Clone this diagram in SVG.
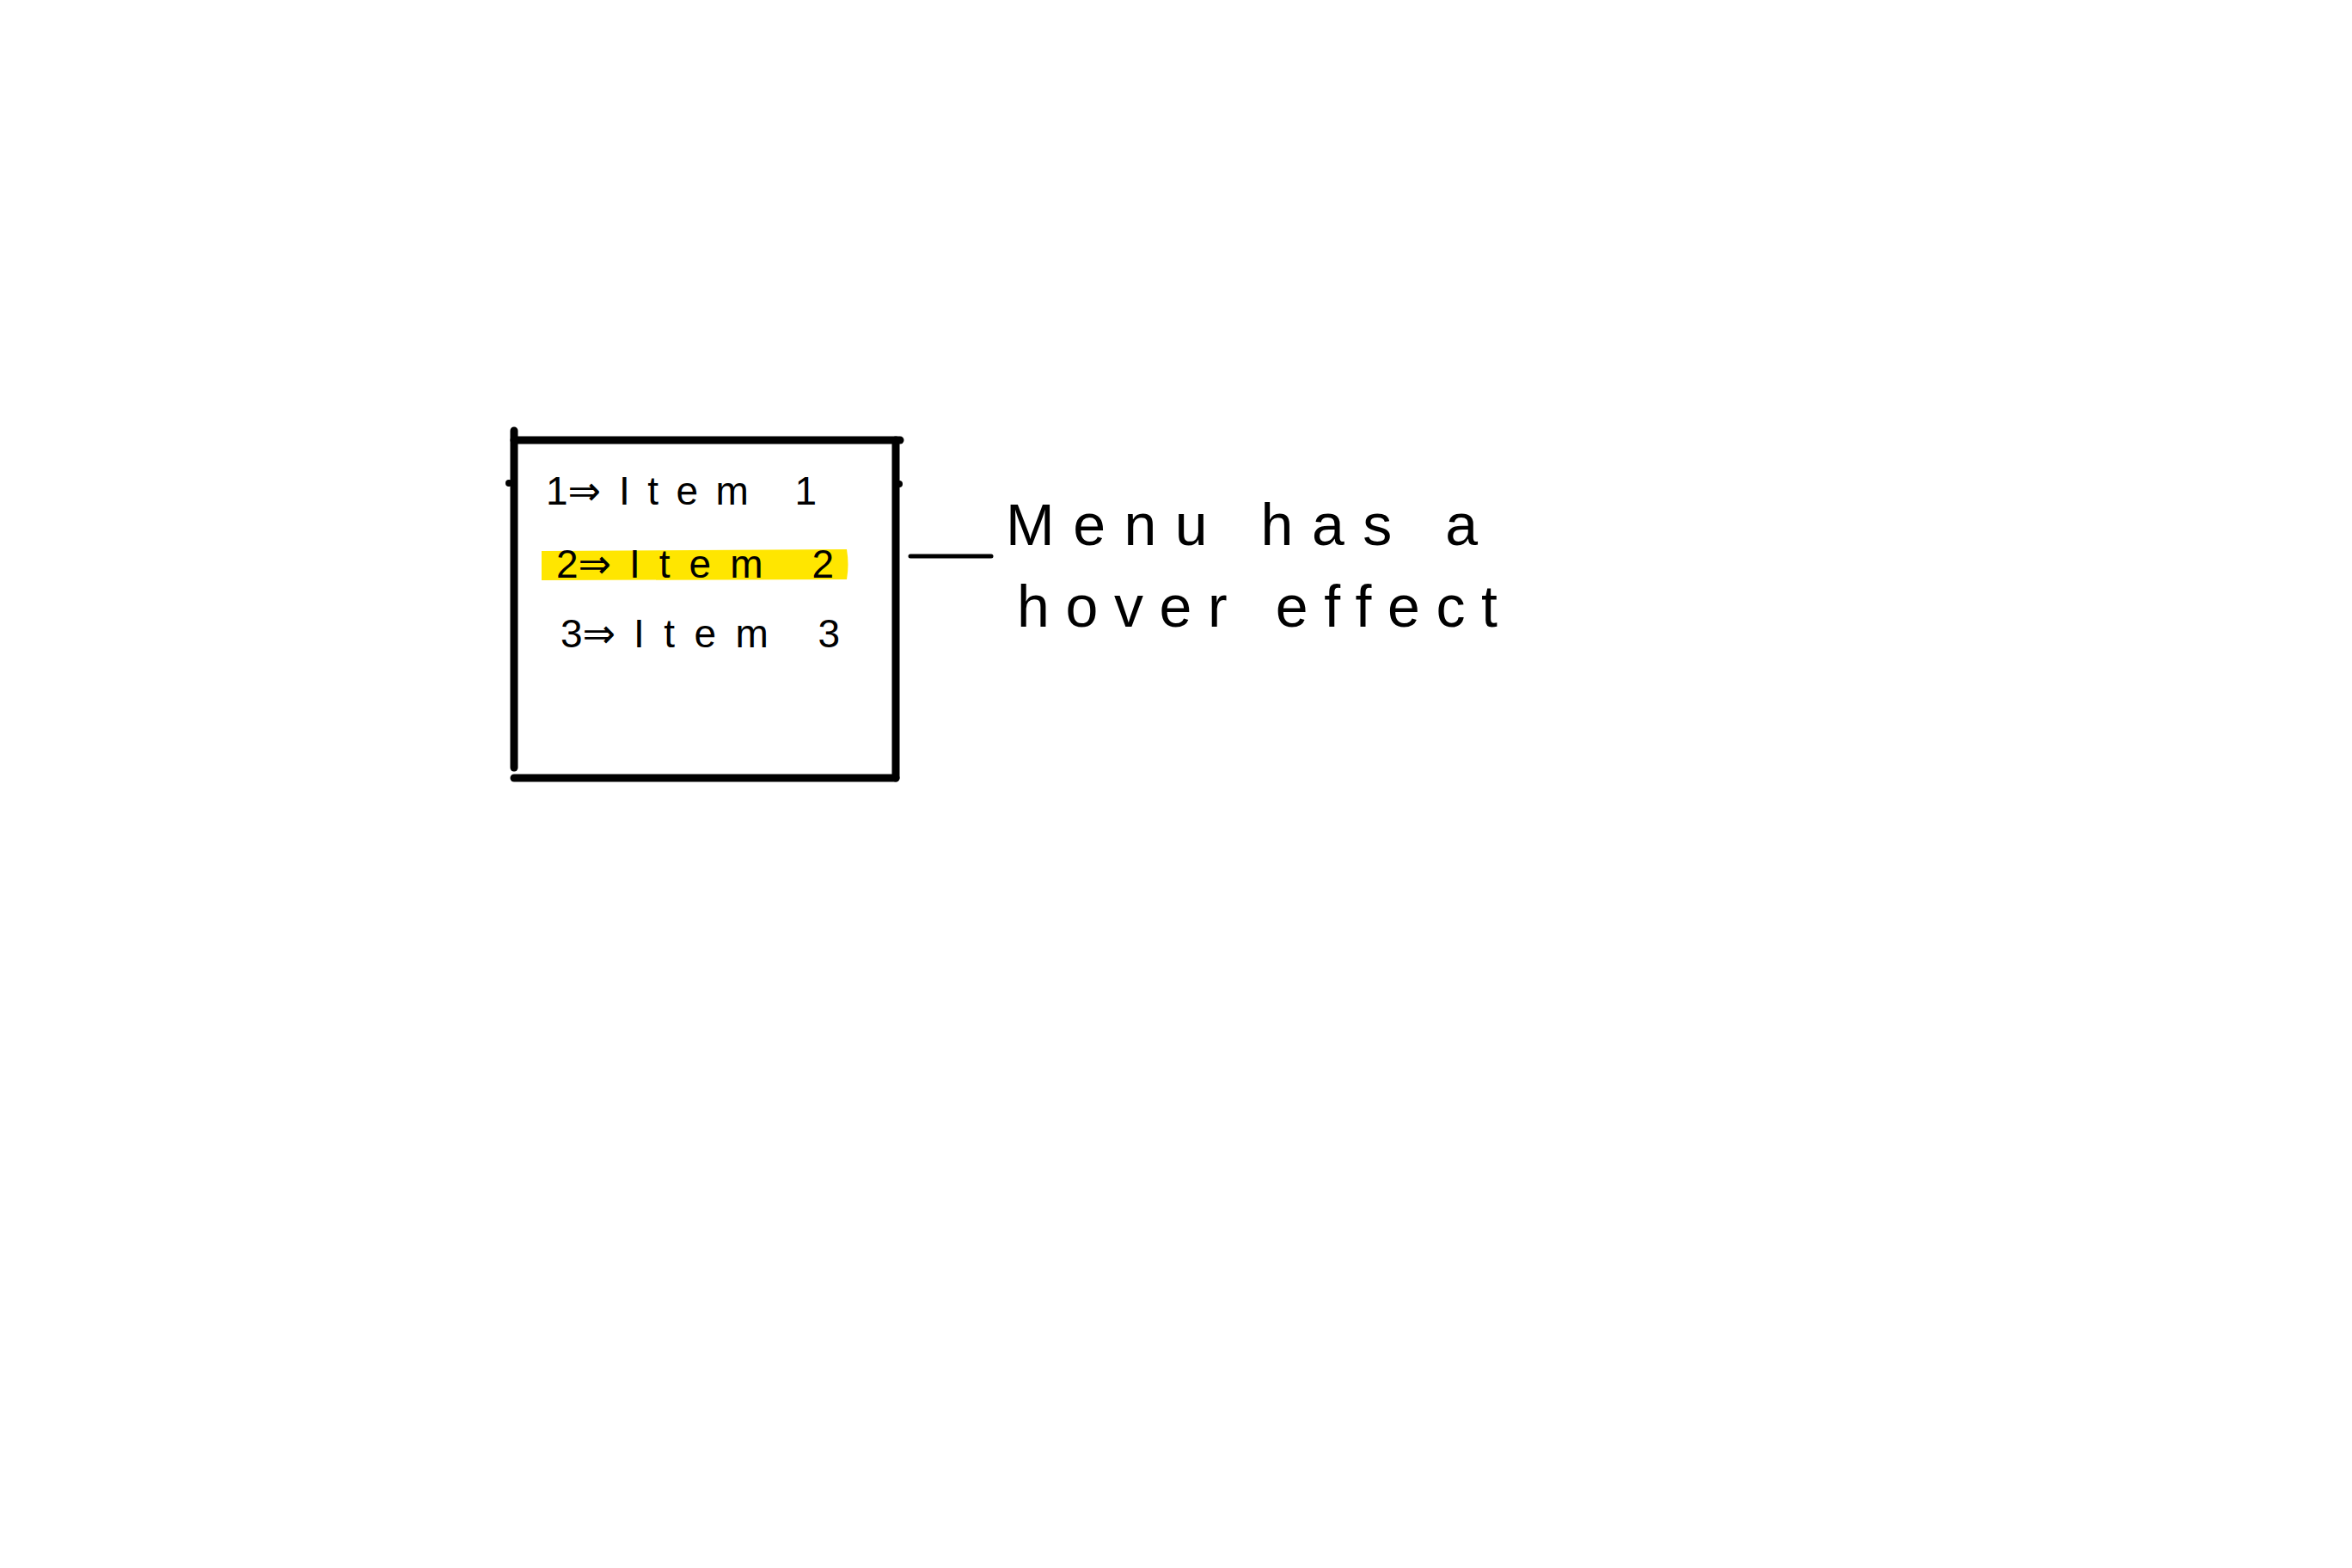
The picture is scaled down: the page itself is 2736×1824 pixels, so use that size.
<svg xmlns="http://www.w3.org/2000/svg" width="2736" height="1824" viewBox="0 0 2736 1824">
  <style>
    .ink { stroke: #000; fill: none; stroke-linecap: round; stroke-linejoin: round; }
    .item { font-family: "Liberation Sans", "DejaVu Sans", sans-serif; font-size: 46px; fill: #000; }
    .note { font-family: "Liberation Sans", "DejaVu Sans", sans-serif; font-size: 68px; fill: #000; }
  </style>
  <rect width="2736" height="1824" fill="#fff"/>
  <g id="menu-box">
    <line class="ink" stroke-width="9" x1="598" y1="501" x2="598" y2="893"/>
    <line class="ink" stroke-width="9" x1="598" y1="512" x2="1047" y2="512"/>
    <line class="ink" stroke-width="9" x1="1042" y1="512" x2="1042" y2="905"/>
    <line class="ink" stroke-width="9" x1="598" y1="905" x2="1042" y2="905"/>
    <circle cx="592" cy="562" r="4" fill="#000"/>
    <circle cx="1046" cy="563" r="4" fill="#000"/>
  </g>
  <g id="item-1">
    <text class="item" x="635" y="587"><tspan>1⇒</tspan><tspan x="720" textLength="230" lengthAdjust="spacing">Item 1</tspan></text>
  </g>
  <g id="item-2">
    <path d="M630,641 L985,639 Q988,657 985,674 L630,675 Z" fill="#FFE600"/>
    <text class="item" x="647" y="672"><tspan>2⇒</tspan><tspan x="732" textLength="238" lengthAdjust="spacing">Item 2</tspan></text>
  </g>
  <g id="item-3">
    <text class="item" x="652" y="753"><tspan>3⇒</tspan><tspan x="737" textLength="240" lengthAdjust="spacing">Item 3</tspan></text>
  </g>
  <g id="connectors">
    <line class="ink" stroke-width="5" x1="1059" y1="647" x2="1153" y2="647"/>
  </g>
  <g id="note">
    <text class="note" x="1170" y="634" textLength="549" lengthAdjust="spacing">Menu has a</text>
    <text class="note" x="1183" y="729" textLength="559" lengthAdjust="spacing">hover effect</text>
  </g>
</svg>
